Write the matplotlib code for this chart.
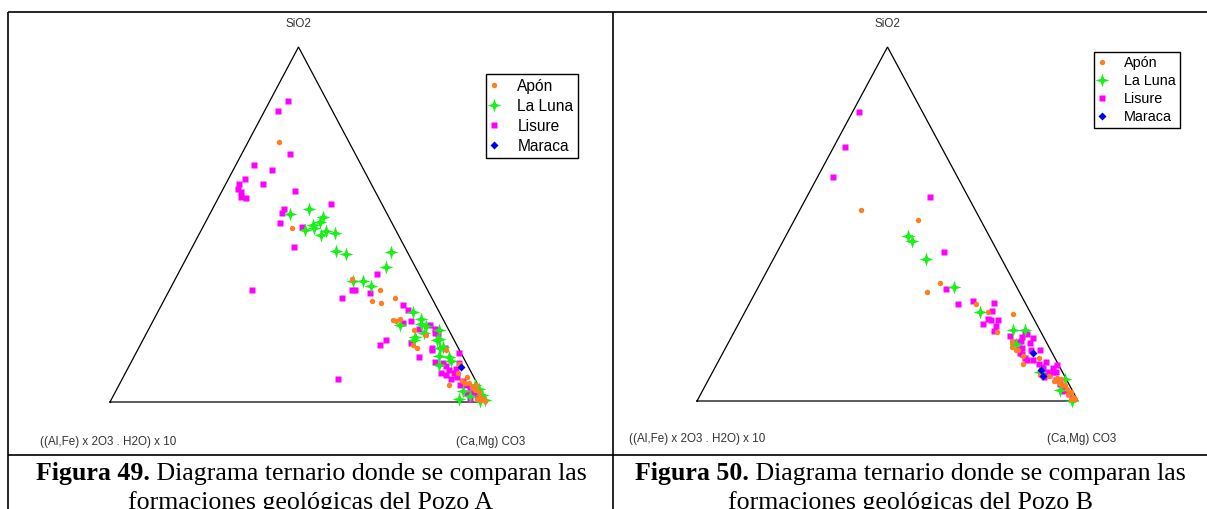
import numpy as np
import matplotlib
matplotlib.use("Agg")
import matplotlib.pyplot as plt
from matplotlib.path import Path
from matplotlib.lines import Line2D

W, H, DPI = 1207, 509, 100

formations = ["Apón", "La Luna", "Lisure", "Maraca"]
apex_label = "SiO2"
left_label = "((Al,Fe) x 2O3 . H2O) x 10"
right_label = "(Ca,Mg) CO3"
captions = [("Figura 49.", " Diagrama ternario donde se comparan las",
             "formaciones geológicas del Pozo A"),
            ("Figura 50.", " Diagrama ternario donde se comparan las",
             "formaciones geológicas del Pozo B")]

# ---- Pozo A : percentages of SiO2 and (Ca,Mg)CO3 (remainder = clays) ----
a_apon_sio2 = [73.2, 48.9, 34.6, 31.5, 28.4, 27.9, 29.2, 23.1, 22.8, 23.3, 20.3, 18.8,
               16.0, 15.2, 14.6, 10.7, 8.3, 4.9, 7.0, 6.0, 5.4, 5.3, 4.3, 4.7, 3.4,
               2.8, 1.5, 0.9, 0.6, 0.4, 0.9]
a_apon_carb = [8.2, 23.7, 47.0, 55.9, 55.4, 57.9, 61.0, 63.5, 64.5, 65.3, 70.6, 74.3,
               72.3, 73.9, 81.7, 87.3, 88.2, 87.6, 91.3, 90.4, 91.5, 92.5, 93.8, 94.7,
               95.0, 96.4, 97.4, 98.5, 98.2, 99.3, 97.0]

a_luna_sio2 = [53.0, 54.4, 52.1, 50.8, 49.9, 48.5, 48.9, 48.2, 47.0, 47.7, 42.6, 41.6,
               42.3, 37.9, 34.2, 34.2, 32.7, 25.4, 23.3, 21.6, 22.0, 21.4, 20.3, 17.5,
               18.2, 17.5, 15.6, 19.4, 17.7, 15.2, 13.0, 12.8, 11.5, 10.3, 3.2, 0.8,
               1.7, 4.7, 3.7, 1.9, 0.2, 0.6]
a_luna_carb = [21.2, 25.5, 30.5, 30.3, 29.0, 27.5, 29.7, 33.2, 32.5, 35.8, 38.6, 41.9,
               53.5, 54.2, 47.3, 49.9, 52.9, 67.6, 70.8, 66.1, 71.4, 73.1, 77.1, 78.0,
               71.9, 71.8, 80.4, 73.6, 78.5, 79.9, 80.8, 83.6, 84.7, 82.1, 92.0, 92.1,
               94.7, 94.5, 95.9, 97.8, 98.0, 99.1]

a_lisure_sio2 = [84.9, 81.9, 69.8, 66.7, 65.3, 62.7, 61.3, 61.3, 59.9, 59.2, 57.8, 57.4,
                 59.4, 55.7, 54.4, 53.2, 50.3, 49.4, 43.6, 31.5, 31.5, 29.3, 36.1, 31.5,
                 30.6, 27.2, 25.9, 22.8, 22.3, 21.6, 20.6, 20.5, 19.1, 16.7, 17.5, 16.0,
                 15.1, 15.1, 6.5, 12.6, 14.6, 11.3, 13.7, 11.1, 10.1, 9.0, 7.5, 6.6,
                 8.3, 9.2, 7.0, 6.0, 4.7, 4.7, 4.3, 2.6, 2.0, 2.5, 0.8, 0.9, 11.1,
                 19.4, 8.1]
a_lisure_carb = [4.7, 3.6, 12.8, 4.8, 10.4, 4.4, 3.7, 10.0, 4.0, 5.1, 5.8, 7.5,
                 19.4, 30.9, 18.9, 19.0, 20.0, 26.2, 26.9, 21.9, 48.5, 47.0, 52.7, 49.2,
                 53.7, 64.2, 66.0, 68.5, 66.6, 74.0, 71.7, 75.9, 77.5, 71.5, 64.5, 63.6,
                 77.9, 81.3, 57.2, 75.6, 78.1, 80.5, 85.6, 82.9, 84.0, 85.3, 85.5, 87.1,
                 87.0, 87.2, 88.5, 90.7, 90.4, 92.2, 93.3, 94.7, 96.3, 93.4, 97.4, 95.0,
                 87.0, 76.6, 83.7]

a_maraca_sio2 = [9.8]
a_maraca_carb = [88.1]

# ---- Pozo B ----
b_apon_sio2 = [53.9, 51.0, 33.2, 30.7, 27.5, 25.1, 24.5, 19.6, 16.9, 15.3, 14.5, 14.3,
               12.8, 12.2, 10.4, 7.3, 7.0, 6.6, 5.7, 6.1, 5.0, 4.4, 4.6, 3.5, 2.5,
               2.0, 1.2, 0.6, 0.6]
b_apon_carb = [16.0, 32.4, 47.1, 45.0, 59.6, 63.8, 70.6, 68.9, 74.2, 75.1, 76.5, 77.2,
               79.2, 83.7, 80.3, 86.3, 89.0, 91.1, 90.8, 92.4, 92.4, 93.6, 94.4, 95.3,
               96.8, 96.4, 98.2, 97.9, 99.0]

b_luna_sio2 = [46.6, 45.3, 40.2, 32.1, 25.2, 20.0, 20.0, 16.0, 8.1, 6.1, 3.1, 0.1]
b_luna_carb = [32.0, 33.8, 40.0, 51.4, 61.7, 73.0, 76.2, 75.7, 85.9, 93.6, 93.7, 98.5]

b_lisure_sio2 = [81.7, 71.7, 63.2, 57.7, 42.0, 31.7, 27.3, 28.2, 27.6, 25.4, 23.1, 22.8,
                 21.3, 21.7, 19.9, 18.4, 18.1, 19.6, 18.8, 16.9, 17.7, 16.6, 16.5, 15.1,
                 14.3, 14.3, 13.2, 12.2, 11.7, 10.5, 10.9, 9.6, 9.4, 10.2, 8.1, 8.1,
                 8.1, 16.7, 14.8, 13.5, 11.6, 9.3, 6.9, 7.4, 5.9, 4.8, 3.1, 2.7, 2.0,
                 22.8]
b_lisure_carb = [1.7, 3.0, 4.2, 32.3, 43.8, 49.5, 54.8, 58.3, 64.2, 64.7, 64.9, 67.6,
                 67.7, 64.2, 68.1, 73.0, 76.3, 76.4, 77.3, 76.5, 79.4, 76.1, 79.2, 77.8,
                 80.5, 82.8, 78.7, 79.9, 80.7, 84.4, 86.1, 85.8, 88.7, 89.5, 89.4, 87.7,
                 90.3, 74.7, 77.0, 78.1, 82.5, 86.2, 87.7, 88.8, 91.4, 92.9, 95.1, 94.4,
                 96.6, 65.7]

b_maraca_sio2 = [13.6, 8.7, 7.1]
b_maraca_carb = [81.5, 85.9, 87.3]

wells = [
    {"Apón": (a_apon_sio2, a_apon_carb), "La Luna": (a_luna_sio2, a_luna_carb),
     "Lisure": (a_lisure_sio2, a_lisure_carb), "Maraca": (a_maraca_sio2, a_maraca_carb)},
    {"Apón": (b_apon_sio2, b_apon_carb), "La Luna": (b_luna_sio2, b_luna_carb),
     "Lisure": (b_lisure_sio2, b_lisure_carb), "Maraca": (b_maraca_sio2, b_maraca_carb)},
]

# four-pointed star used for La Luna
r = 0.24
star4 = Path([(0, 1), (r, r), (1, 0), (r, -r), (0, -1), (-r, -r), (-1, 0), (-r, r), (0, 1)],
             [Path.MOVETO] + [Path.LINETO] * 7 + [Path.CLOSEPOLY])

styles = {
    "Apón":    dict(marker="o", ms=3.9, color="#ff7f1f"),
    "La Luna": dict(marker=star4, ms=10.0, color="#19f019"),
    "Lisure":  dict(marker="s", ms=3.9, color="#ff00ff"),
    "Maraca":  dict(marker="D", ms=3.8, color="#0000f0"),
}
draw_order = ["Lisure", "La Luna", "Apón", "Maraca"]

# panel geometry in pixels
panels = [
    dict(tri=(110, 487, 402, 47), apex_xy=(298.5, 24), left_xy=(40, 442), right_xy=(456, 442),
         legend_xy=(485.5, 74), legend_fs=11.2, legend_sp=0.32, cap_x=311),
    dict(tri=(697, 1078, 401, 47), apex_xy=(887.5, 24), left_xy=(629, 439), right_xy=(1047, 439),
         legend_xy=(1094, 52), legend_fs=10.4, legend_sp=0.26, cap_x=910),
]

plt.rcParams["font.family"] = ["Liberation Sans", "DejaVu Sans"]

fig = plt.figure(figsize=(W / DPI, H / DPI), dpi=DPI)
fig.patch.set_facecolor("white")
bg = fig.add_axes([0, 0, 1, 1])
bg.set_xlim(0, W)
bg.set_ylim(H, 0)
bg.axis("off")

# table rules
rule = dict(color="black", lw=1.2, solid_capstyle="butt")
bg.plot([8, W], [12, 12], **rule)
bg.plot([8, W], [455, 455], **rule)
bg.plot([8, 8], [12, H], **rule)
bg.plot([612.5, 612.5], [12, H], **rule)

label_kw = dict(fontsize=8.4, color="#333333", family=["Liberation Sans", "DejaVu Sans"])

for well, p in zip(wells, panels):
    left, right, base, apex = p["tri"]
    ax = fig.add_axes([left / W, (H - base) / H, (right - left) / W, (base - apex) / H])
    ax.set_xlim(0, 100)
    ax.set_ylim(0, 100)
    ax.axis("off")
    ax.plot([0, 100, 50, 0], [0, 0, 100, 0], color="black", lw=0.9, clip_on=False,
            solid_joinstyle="miter")

    for name in draw_order:
        sio2, carb = (np.asarray(v, float) for v in well[name])
        clay = 100.0 - sio2 - carb
        total = sio2 + carb + clay
        x = 100.0 * (carb + sio2 / 2.0) / total
        y = 100.0 * sio2 / total
        st = styles[name]
        ax.plot(x, y, ls="none", marker=st["marker"], ms=st["ms"], mfc=st["color"],
                mec="none", clip_on=False, zorder=3)

    handles = [Line2D([], [], ls="none", marker=styles[n]["marker"], ms=styles[n]["ms"],
                      mfc=styles[n]["color"], mec="none") for n in formations]
    lx, ly = p["legend_xy"]
    leg = ax.legend(handles, formations, loc="upper left",
                    bbox_to_anchor=(lx / W, 1 - ly / H), bbox_transform=fig.transFigure,
                    frameon=True, fancybox=False, edgecolor="black", framealpha=1,
                    handlelength=0.45, handletextpad=1.3,
                    labelspacing=p["legend_sp"], borderpad=0.3, borderaxespad=0,
                    prop={"family": ["Liberation Sans", "DejaVu Sans"], "size": p["legend_fs"]})
    leg.get_frame().set_linewidth(1.0)

    bg.text(*p["apex_xy"], apex_label, ha="center", va="center", **label_kw)
    bg.text(*p["left_xy"], left_label, ha="left", va="center", **label_kw)
    bg.text(*p["right_xy"], right_label, ha="left", va="center", **label_kw)

# captions (bold figure number followed by regular text, centred in each cell)
renderer = fig.canvas.get_renderer()
cap_fs = 18.6
cap_kw = dict(fontsize=cap_fs, color="black", family=["Liberation Serif", "DejaVu Serif"],
              va="baseline", ha="left")
for (bold, rest, line2), p in zip(captions, panels):
    t1 = bg.text(0, 480, bold, fontweight="bold", **cap_kw)
    t2 = bg.text(0, 480, rest, **cap_kw)
    w1 = t1.get_window_extent(renderer).width
    w2 = t2.get_window_extent(renderer).width
    x0 = p["cap_x"] - (w1 + w2) / 2
    t1.set_x(x0)
    t2.set_x(x0 + w1)
    bg.text(p["cap_x"], 509.5, line2, fontsize=cap_fs, color="black",
            family=["Liberation Serif", "DejaVu Serif"], va="baseline", ha="center")

fig.savefig("out.png", dpi=DPI, facecolor="white")
